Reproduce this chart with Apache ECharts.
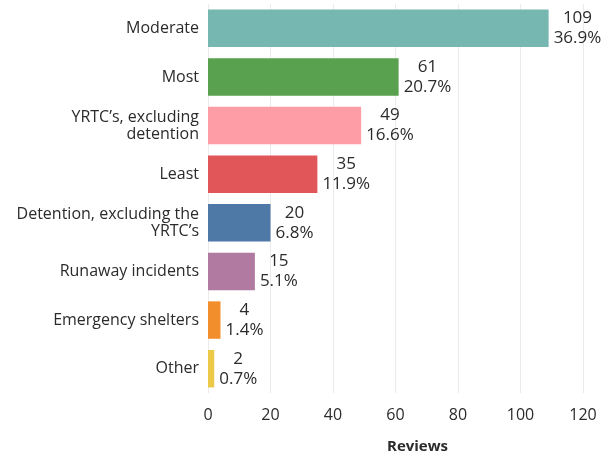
<!DOCTYPE html>
<html><head><meta charset="utf-8">
<script src="https://cdn.jsdelivr.net/npm/echarts@6/dist/echarts.min.js"></script>
<style>html,body{margin:0;padding:0;background:#fff}#c{width:610px;height:453px}</style>
</head><body><div id="c"></div>
<script>
const categories = ["Moderate","Most","YRTC\u2019s, excluding\ndetention","Least","Detention, excluding the\nYRTC\u2019s","Runaway incidents","Emergency shelters","Other"];
const reviews = [109,61,49,35,20,15,4,2];
const percents = [36.9,20.7,16.6,11.9,6.8,5.1,1.4,0.7];
const colors = ["#76b7b2","#59a14f","#ff9da7","#e15759","#4e79a7","#b07aa1","#f28e2b","#edc948"];
const xTicks = [0,20,40,60,80,100,120];

const chart = echarts.init(document.getElementById('c'), null, {renderer:'canvas'});
const font = '"Open Sans", sans-serif';
chart.setOption({
  animation:false,
  grid:{left:208,right:27,top:4,bottom:60,containLabel:false,outerBoundsMode:'none'},
  xAxis:{type:'value',min:xTicks[0],max:xTicks[xTicks.length-1],interval:20,
    name:'Reviews',nameLocation:'middle',nameGap:46,
    nameTextStyle:{fontFamily:font,fontSize:15,fontWeight:'bold',color:'#2b2b2b',padding:[0,0,0,44]},
    axisLine:{show:false},axisTick:{show:false},
    axisLabel:{fontFamily:font,fontSize:16,color:'#2b2b2b',margin:14},
    splitLine:{lineStyle:{color:'#ebebeb',width:1}}},
  yAxis:{type:'category',data:categories,inverse:true,
    axisLine:{show:false},axisTick:{show:false},
    axisLabel:{fontFamily:font,fontSize:16,color:'#2b2b2b',margin:9,lineHeight:17,align:'right',padding:[4,0,0,0]}},
  series:[{type:'bar',barCategoryGap:'23%',
    data:reviews.map((v,i)=>({value:v,itemStyle:{color:colors[i]}})),
    label:{show:true,position:'right',distance:5,
      formatter:p=>'{a|'+reviews[p.dataIndex]+'}\n{a|'+percents[p.dataIndex].toFixed(1)+'%}',
      rich:{a:{fontFamily:font,fontSize:17,color:'#2b2b2b',lineHeight:20,align:'center'}}}
  }]
});
</script></body></html>
